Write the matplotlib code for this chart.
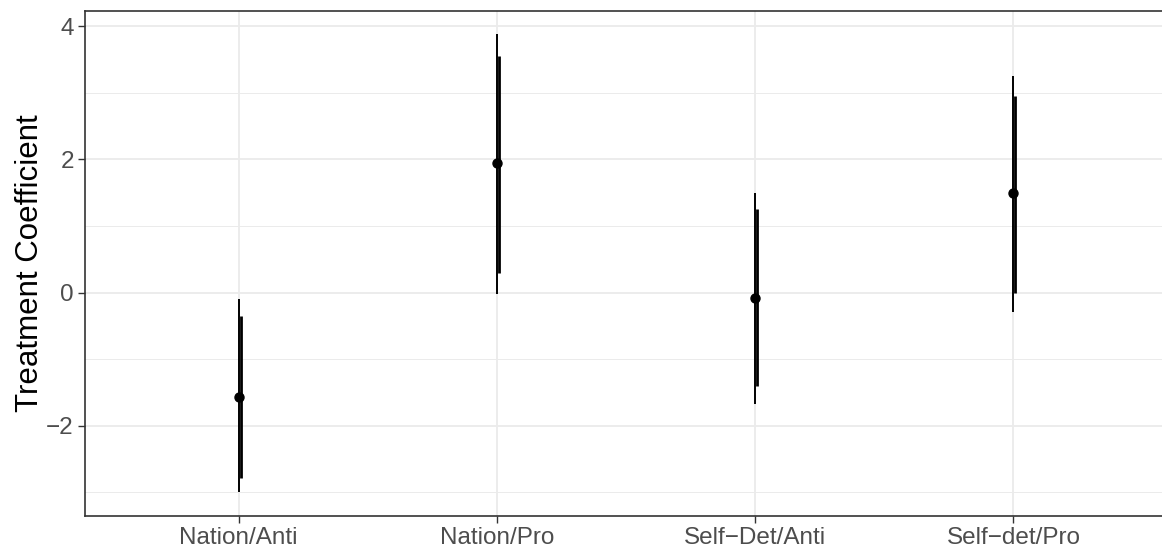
import matplotlib
matplotlib.use("Agg")
import matplotlib.pyplot as plt
from matplotlib.ticker import MultipleLocator
import numpy as np

# Données
categories = ["Nation/Anti", "Nation/Pro", "Self\u2212Det/Anti", "Self\u2212det/Pro"]
estimates = [-1.57, 1.94, -0.08, 1.49]
ci95_low = [-3.00, -0.02, -1.68, -0.29]
ci95_high = [-0.10, 3.88, 1.50, 3.25]
ci90_low = [-2.78, 0.30, -1.41, 0.00]
ci90_high = [-0.35, 3.56, 1.25, 2.95]

plt.rcParams['font.family'] = ['Liberation Sans', 'DejaVu Sans']

fig = plt.figure(figsize=(11.62, 5.47), dpi=100)
ax = fig.add_axes([0.0731, 0.0575, 0.9269 + 0.01, 0.9225])

x = np.arange(1, len(categories) + 1)

# Grille façon theme_bw
ax.yaxis.set_major_locator(MultipleLocator(2))
ax.yaxis.set_minor_locator(MultipleLocator(1))
ax.grid(True, which='major', color='#ebebeb', linewidth=1.3, zorder=0)
ax.grid(True, which='minor', axis='y', color='#ebebeb', linewidth=0.7, zorder=0)
ax.set_axisbelow(True)

# Intervalles : un fin (95%) et un plus épais (90%) légèrement décalé
ax.vlines(x, ci95_low, ci95_high, color='black', linewidth=1.4, zorder=3)
ax.vlines(x + 0.0075, ci90_low, ci90_high, color='black', linewidth=2.0, zorder=3)
ax.scatter(x, estimates, s=42, color='black', zorder=4)

ax.set_xticks(x)
ax.set_xticklabels(categories)
ax.set_xlim(0.405, 4.62)
ax.set_ylim(-3.35, 4.23)

ax.set_ylabel("Treatment Coefficient", fontsize=22.5, labelpad=1)
ax.tick_params(axis='both', which='major', labelsize=17.5, labelcolor='#4d4d4d',
               color='#333333', length=5, width=1, pad=3)
ax.tick_params(axis='y', which='minor', length=0)

for side in ['left', 'bottom', 'top']:
    ax.spines[side].set_color('#333333')
    ax.spines[side].set_linewidth(1.2)
ax.spines['right'].set_visible(False)

fig.savefig("out.png", dpi=100)
